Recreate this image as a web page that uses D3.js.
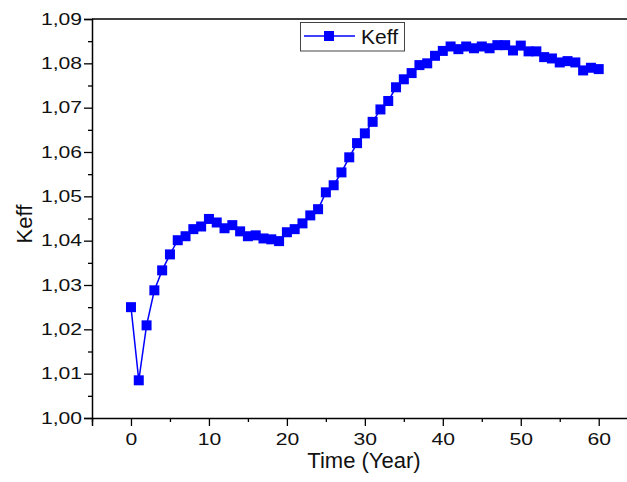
<!DOCTYPE html>
<html><head><meta charset="utf-8">
<script src="https://cdn.jsdelivr.net/npm/d3@7"></script>
<style>body{margin:0;background:#fff;} svg{display:block;}</style>
</head><body>
<svg id="chart" width="627" height="482"></svg>
<script>
const years = d3.range(0, 61);
const keff = [1.0250,1.0085,1.0209,1.0288,1.0333,1.0369,1.0401,1.0410,1.0426,1.0432,
  1.0449,1.0441,1.0428,1.0435,1.0421,1.0410,1.0412,1.0405,1.0403,1.0399,
  1.0419,1.0426,1.0439,1.0457,1.0471,1.0509,1.0525,1.0554,1.0588,1.0620,
  1.0642,1.0668,1.0696,1.0715,1.0746,1.0764,1.0778,1.0796,1.0800,1.0817,
  1.0828,1.0838,1.0832,1.0838,1.0834,1.0838,1.0834,1.0841,1.0841,1.0829,
  1.0840,1.0827,1.0827,1.0814,1.0811,1.0802,1.0805,1.0802,1.0784,1.0790,1.0787];
const xTicks = [0,10,20,30,40,50,60];
const xMinor = [-5,5,15,25,35,45,55,65];
const yTicks = [1.00,1.01,1.02,1.03,1.04,1.05,1.06,1.07,1.08,1.09];
const yMinor = [1.005,1.015,1.025,1.035,1.045,1.055,1.065,1.075,1.085];
const seriesName = "Keff";
const xTitle = "Time (Year)";
const yTitle = "Keff";

const svg = d3.select("#chart");
const x = d3.scaleLinear().domain([-5, 65]).range([92, 637.7]);
const y = d3.scaleLinear().domain([1.00, 1.09]).range([418, 19]);
const font = "'Liberation Sans', Arial, sans-serif";
const fmt = d => d3.format(".2f")(d).replace(".", ",");

// top frame line
svg.append("line").attr("x1", x(-5)).attr("x2", x(65)).attr("y1", y(1.09)).attr("y2", y(1.09))
  .attr("stroke", "#000").attr("stroke-width", 1.5);

// x axis
const gx = svg.append("g").attr("transform", `translate(0,${y(1.00)})`);
gx.call(d3.axisBottom(x).tickValues(xTicks).tickSize(8).tickPadding(7).tickFormat(d3.format("d")));
const gxm = svg.append("g").attr("transform", `translate(0,${y(1.00)})`);
gxm.call(d3.axisBottom(x).tickValues(xMinor).tickSize(4).tickFormat(""));
gxm.select(".domain").remove();

// y axis
const gy = svg.append("g").attr("transform", `translate(${x(-5)},0)`);
gy.call(d3.axisLeft(y).tickValues(yTicks).tickSize(8).tickPadding(2).tickFormat(fmt));
const gym = svg.append("g").attr("transform", `translate(${x(-5)},0)`);
gym.call(d3.axisLeft(y).tickValues(yMinor).tickSize(4).tickFormat(""));
gym.select(".domain").remove();

svg.selectAll(".domain").attr("stroke", "#000").attr("stroke-width", 1.5);
svg.selectAll(".tick line").attr("stroke", "#000").attr("stroke-width", 1.3);
svg.selectAll(".tick text").attr("font-family", font).attr("font-size", 16.5).attr("fill", "#111")
  .each(function() {
    const w = this.getComputedTextLength();
    if (w > 0) d3.select(this).attr("textLength", w * 1.28).attr("lengthAdjust", "spacingAndGlyphs");
  });

// line + markers
const data = years.map((t, i) => ({t, v: keff[i]}));
svg.append("path").datum(data)
  .attr("fill", "none").attr("stroke", "#0000ff").attr("stroke-width", 1.5)
  .attr("d", d3.line().x(d => x(d.t)).y(d => y(d.v)));
const ms = 10;
svg.append("g").selectAll("rect").data(data).join("rect")
  .attr("x", d => x(d.t) - ms/2).attr("y", d => y(d.v) - ms/2)
  .attr("width", ms).attr("height", ms).attr("fill", "#0000ff");

// titles
svg.append("text").attr("x", 364).attr("y", 468).attr("text-anchor", "middle")
  .attr("font-family", font).attr("font-size", 22).attr("fill", "#111").text(xTitle);
svg.append("text").attr("transform", "translate(32,224) rotate(-90)").attr("text-anchor", "middle")
  .attr("font-family", font).attr("font-size", 22).attr("fill", "#111").text(yTitle);

// legend
const lg = svg.append("g");
lg.append("rect").attr("x", 300.5).attr("y", 22.5).attr("width", 104).attr("height", 28.5)
  .attr("fill", "#fff").attr("stroke", "#444").attr("stroke-width", 1);
lg.append("line").attr("x1", 304).attr("x2", 355).attr("y1", 36).attr("y2", 36)
  .attr("stroke", "#0000ff").attr("stroke-width", 1.5);
lg.append("rect").attr("x", 329 - ms/2).attr("y", 36 - ms/2).attr("width", ms).attr("height", ms).attr("fill", "#0000ff");
lg.append("text").attr("x", 361).attr("y", 43.5).attr("font-family", font).attr("font-size", 21)
  .attr("fill", "#111").text(seriesName);
</script>
</body></html>
